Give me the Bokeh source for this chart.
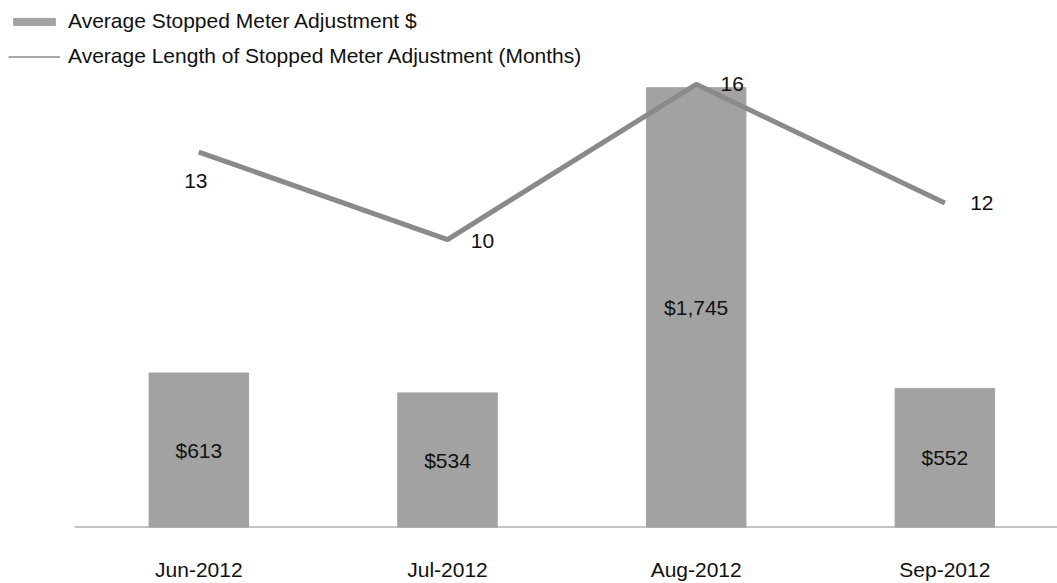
from bokeh.plotting import figure
from bokeh.models import (ColumnDataSource, Range1d, FixedTicker, Legend, LegendItem)
from bokeh.core.properties import value
from bokeh.embed import file_html
from bokeh.resources import INLINE

categories = ["Jun-2012", "Jul-2012", "Aug-2012", "Sep-2012"]
avg_adjustment = [613, 534, 1745, 552]
avg_length_months = [13.3, 10.2, 15.7, 11.5]
bar_labels = ["$613", "$534", "$1,745", "$552"]
line_labels = ["13", "10", "16", "12"]

# label offsets in pixels (style)
line_label_dx = [-3, 35, 36, 37]
line_label_dy = [29, 1, 0, 0]

FONT = "Liberation Sans"
FS = "21px"
TXT = "#111111"
BAR_COLOR = "#a2a2a2"
LINE_COLOR = "#8a8a8a"

X_START, X_END = -0.7976, 3.453

idx = list(range(len(categories)))
src = ColumnDataSource(dict(
    x=idx, adj=avg_adjustment, half=[v / 2 for v in avg_adjustment],
    months=avg_length_months, blab=bar_labels, llab=line_labels,
    dx=line_label_dx, dy=line_label_dy,
))

p = figure(width=1057, height=583, output_backend="svg", toolbar_location=None,
           x_range=Range1d(X_START, X_END), y_range=Range1d(0, 2091),
           min_border_left=0, min_border_right=0, min_border_top=0,
           min_border_bottom=51)
p.extra_y_ranges = {"months": Range1d(0, 18.67)}
p.outline_line_color = None
p.xgrid.visible = False
p.ygrid.visible = False
p.yaxis.visible = False
p.background_fill_color = "white"

# category baseline starting at the first category's left bound
p.segment(x0=[idx[0] - 0.5], x1=[X_END], y0=[0], y1=[0],
          line_color="#8a8a8a", line_width=2)

bars = p.vbar(x="x", top="adj", width=0.40, source=src, fill_color=BAR_COLOR,
              line_color=BAR_COLOR)
p.text(x="x", y="half", text="blab", source=src, text_align="center",
       text_baseline="middle", text_font=value(FONT), text_font_size=FS,
       text_color=TXT)

thin = p.line(x="x", y="months", source=src, y_range_name="months",
              line_color=LINE_COLOR, line_width=1.5)
p.line(x="x", y="months", source=src, y_range_name="months",
       line_color=LINE_COLOR, line_width=5)
p.text(x="x", y="months", text="llab", source=src, y_range_name="months",
       x_offset="dx", y_offset="dy", text_align="center", text_baseline="middle",
       text_font=value(FONT), text_font_size=FS, text_color=TXT)

ax = p.xaxis[0]
ax.ticker = FixedTicker(ticks=idx)
ax.major_label_overrides = {i: c for i, c in zip(idx, categories)}
ax.major_tick_line_color = None
ax.minor_tick_line_color = None
ax.axis_line_color = None
ax.major_label_standoff = 24
ax.major_label_text_font = FONT
ax.major_label_text_font_size = FS
ax.major_label_text_color = TXT

legend = Legend(items=[
    LegendItem(label="Average Stopped Meter Adjustment $", renderers=[bars]),
    LegendItem(label="Average Length of Stopped Meter Adjustment (Months)", renderers=[thin]),
], location=(8, 459))
legend.glyph_width = 52
legend.glyph_height = 9
legend.label_height = 24
legend.spacing = 11
legend.padding = 0
legend.margin = 0
legend.label_standoff = 8
legend.label_text_font = FONT
legend.label_text_font_size = FS
legend.label_text_color = TXT
legend.background_fill_alpha = 0
legend.border_line_color = None
p.add_layout(legend)

open("out.html", "w").write(file_html(p, INLINE))
